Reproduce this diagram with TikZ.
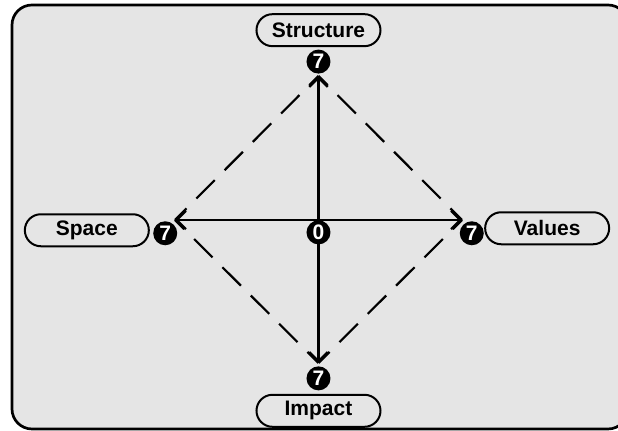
\documentclass[tikz,border=0pt]{standalone}
\usepackage{fontspec}
\setmainfont{Liberation Sans}
\usepackage{tikz}
\usetikzlibrary{arrows.meta, positioning}

\begin{document}
\begin{tikzpicture}[
    node distance=1pt,
    tag/.style={rectangle, rounded corners=8pt, draw=black, fill=gray!20, line width=1pt, minimum width=62pt, minimum height=16pt, inner sep=0pt, font=\fontsize{10.5}{12}\selectfont\bfseries},
    num/.style={circle, fill=black, text=white, inner sep=0pt, minimum size=12pt, font=\fontsize{10.5}{12}\selectfont\bfseries},
    arrow/.style={-{Straight Barb[angle=90:6.5pt]}, line width=1.2pt},
    link/.style={line width=1.1pt, dash pattern=on 13pt off 7pt, dash phase=6.5pt},
    frame/.style={draw=black, fill=gray!20, line width=1.35pt, rounded corners=10pt}
]

\useasboundingbox (-159.25pt,-105.5pt) rectangle (149.75pt,110pt);
\draw[frame] (-153.25pt,-104.5pt) rectangle (154.75pt,107.5pt);

% centre and arrow ends
\coordinate (hub) at (0,0);
\coordinate[above=72pt of hub] (tipN);
\coordinate[below=71.5pt of hub] (tipS);
\coordinate[left=71.75pt of hub] (tipW);
\coordinate[right=71.75pt of hub] (tipE);

\draw[link] (tipN) -- (tipW);
\draw[link] (tipN) -- (tipE);
\draw[link] (tipW) -- (tipS);
\draw[link] (tipE) -- (tipS);

\draw[arrow] (hub) -- (tipN);
\draw[arrow] (hub) -- (tipS);
\draw[arrow] (hub) -- (tipW);
\draw[arrow] (hub) -- (tipE);

\node[num, below=0pt of hub] (zero) {0};
\node[num, above=1pt of tipN] (numN) {7};
\node[num, below=1.5pt of tipS] (numS) {7};
\node[num, below left=2.25pt and 0.5pt of tipW] (numW) {7};
\node[num, below right=2.25pt and 0.5pt of tipE] (numE) {7};

\node[tag, above=1pt of numN] (structure) {Structure};
\node[tag, below=1.5pt of numS] (impact) {Impact};
\node[tag, left=1.5pt of numW, yshift=1.5pt] (space) {Space};
\node[tag, right=0pt of numE, yshift=2.5pt] (values) {Values};

\end{tikzpicture}
\end{document}
